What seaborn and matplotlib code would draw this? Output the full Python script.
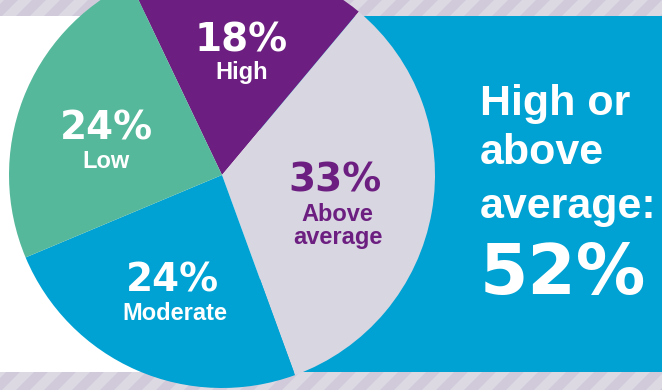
import matplotlib
matplotlib.use("Agg")
import matplotlib.pyplot as plt
import seaborn as sns
from matplotlib.patches import Rectangle, Polygon

# ---- data ----
categories = ["High", "Above average", "Moderate", "Low"]
values = [18, 33, 24, 24]
pct_labels = ["18%", "33%", "24%", "24%"]
summary_lines = ["High or", "above", "average:"]
summary_value = "52%"

# ---- style ----
sns.set_theme(style="white")
colors = ["#6C1F80", "#D8D6E1", "#00A2D3", "#55B89B"]
text_colors = ["white", "#6C1F80", "white", "white"]
plt.rcParams["font.family"] = ["Liberation Sans", "DejaVu Sans"]

W, H = 662, 390
fig = plt.figure(figsize=(W / 100, H / 100), dpi=100)
fig.patch.set_facecolor("white")

# background axes in pixel coordinates
bg = fig.add_axes([0, 0, 1, 1], zorder=0)
bg.set_xlim(0, W)
bg.set_ylim(H, 0)
bg.axis("off")

stripe_light = "#DCD9E3"
stripe_dark = "#D1CADA"
for (y0, y1) in [(0, 16), (372, H)]:
    bg.add_patch(Rectangle((0, y0), W, y1 - y0, color=stripe_light, lw=0))
    period = 28
    x = -40
    while x < W + 40:
        h = y1 - y0
        poly = [(x, y1), (x + 14, y1), (x + 14 + h, y0), (x + h, y0)]
        bg.add_patch(Polygon(poly, closed=True, color=stripe_dark, lw=0))
        x += period

bg.add_patch(Rectangle((260, 16), W - 260, 356, color="#00A2D3", lw=0))

# pie axes: centre (222,175) px, radius 213 px
cx, cy, r = 222, 175, 213
pax = fig.add_axes([(cx - r) / W, (H - cy - r) / H, 2 * r / W, 2 * r / H], zorder=1)
pax.pie(values, colors=colors, startangle=115.5, counterclock=False,
        radius=1.0, wedgeprops=dict(linewidth=0))
pax.set_xlim(-1, 1)
pax.set_ylim(-1, 1)
pax.set_aspect("auto")
pax.axis("off")

# overlay for text
ov = fig.add_axes([0, 0, 1, 1], zorder=2)
ov.set_xlim(0, W)
ov.set_ylim(H, 0)
ov.axis("off")
ov.patch.set_alpha(0)

num_font = ["DejaVu Sans"]
pos_pct = [(241, 52), (335, 192), (172, 292), (106, 140)]
pos_cat = [[(242, 79)], [(337, 221), (338, 244)], [(175, 320)], [(106, 168)]]
cat_lines = [["High"], ["Above", "average"], ["Moderate"], ["Low"]]
for i in range(4):
    x, y = pos_pct[i]
    ov.text(x, y, pct_labels[i], ha="center", va="baseline", fontsize=28,
            fontweight="bold", family=num_font, color=text_colors[i])
    for (lx, ly), t in zip(pos_cat[i], cat_lines[i]):
        ov.text(lx, ly, t, ha="center", va="baseline", fontsize=17,
                fontweight="bold", color=text_colors[i])

for t, yb in zip(summary_lines, [115, 164, 218]):
    ov.text(480, yb, t, ha="left", va="baseline", fontsize=31,
            fontweight="bold", color="white")
ov.text(480, 294, summary_value, ha="left", va="baseline", fontsize=50,
        fontweight="bold", family=num_font, color="white")

fig.savefig("out.png", dpi=100)
